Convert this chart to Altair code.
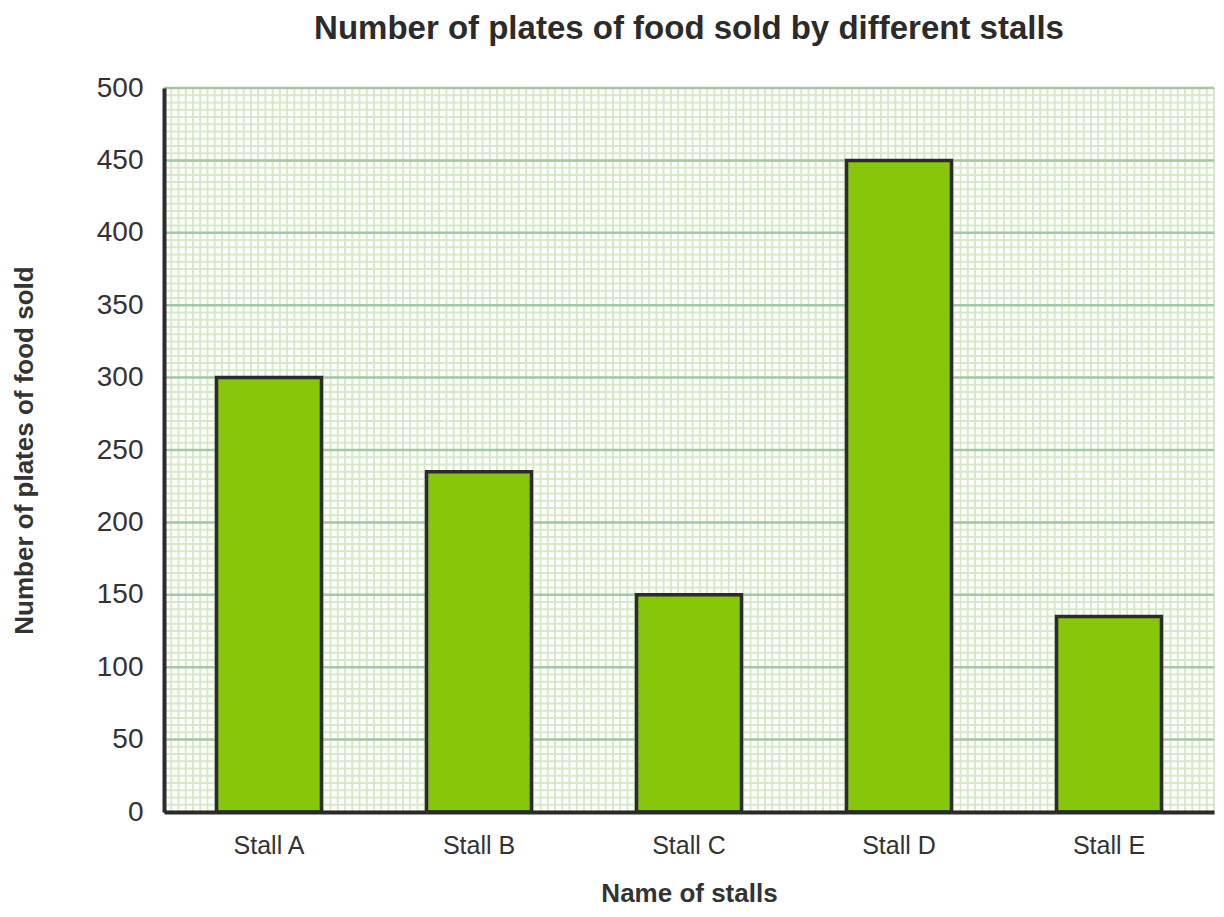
import altair as alt
import pandas as pd

stalls = ["Stall A", "Stall B", "Stall C", "Stall D", "Stall E"]
plates = [300, 235, 150, 450, 135]

y_major = list(range(0, 501, 50))
y_minor = list(range(0, 501, 5))
x_minor = list(range(0, 146))

W, H = 1050, 724
FONT = "Liberation Sans"
DARK = "#2b2b2b"

bars_df = pd.DataFrame({"stall": stalls, "plates": plates})
yminor_df = pd.DataFrame({"plates": y_minor})
ymajor_df = pd.DataFrame({"plates": y_major})
xminor_df = pd.DataFrame({"u": x_minor})

yscale = alt.Scale(domain=[0, 500], nice=False)

y_axis = alt.Axis(
    title="Number of plates of food sold",
    values=y_major,
    grid=False,
    ticks=False,
    domain=True,
    domainColor=DARK,
    domainWidth=4,
    labelFont=FONT,
    labelFontSize=28,
    labelColor="#333333",
    labelPadding=21,
    titleFont=FONT,
    titleFontSize=26,
    titleFontWeight="bold",
    titleColor="#333333",
    titleX=-127,
    titleY=H / 2,
    zindex=2,
)

vminor = alt.Chart(xminor_df).mark_rule(color="#d6e9c8", strokeWidth=2).encode(
    x=alt.X("u:Q", scale=alt.Scale(domain=[0, 145], nice=False, zero=False), axis=None),
    y=alt.value(0),
    y2=alt.value(H),
)

hminor = alt.Chart(yminor_df).mark_rule(color="#d6e9c8", strokeWidth=2).encode(
    y=alt.Y("plates:Q", scale=yscale, axis=y_axis),
    x=alt.value(0),
    x2=alt.value(W),
)

hmajor = alt.Chart(ymajor_df).mark_rule(color="#a3c9a3", strokeWidth=2.5).encode(
    y=alt.Y("plates:Q", scale=yscale, axis=y_axis),
    x=alt.value(0),
    x2=alt.value(W),
)

bars = alt.Chart(bars_df).mark_bar(
    color="#88c609", stroke=DARK, strokeWidth=3.5
).encode(
    x=alt.X(
        "stall:N",
        sort=stalls,
        scale=alt.Scale(paddingInner=0.5, paddingOuter=0.25),
        axis=alt.Axis(
            title="Name of stalls",
            labelAngle=0,
            ticks=False,
            domain=True,
            domainColor=DARK,
            domainWidth=4,
            labelFont=FONT,
            labelFontSize=25,
            labelColor="#333333",
            labelPadding=21,
            titleFont=FONT,
            titleFontSize=26,
            titleFontWeight="bold",
            titleColor="#333333",
            titleY=68,
            titleX=W / 2,
            zindex=2,
        ),
    ),
    y=alt.Y("plates:Q", scale=yscale, axis=y_axis),
)

chart = (
    alt.layer(vminor, hminor, hmajor, bars)
    .resolve_scale(x="independent")
    .properties(
        width=W,
        height=H,
        title=alt.TitleParams(
            "Number of plates of food sold by different stalls",
            font=FONT,
            fontSize=33,
            fontWeight="bold",
            color=DARK,
            offset=28,
            anchor="middle",
        ),
        autosize=alt.AutoSizeParams(type="none"),
        padding={"left": 156, "top": 80, "right": 2, "bottom": 97},
    )
    .configure_view(stroke=None)
    .configure(background="white")
)

chart.save("out.html", embed_options={"renderer": "svg", "actions": False})
